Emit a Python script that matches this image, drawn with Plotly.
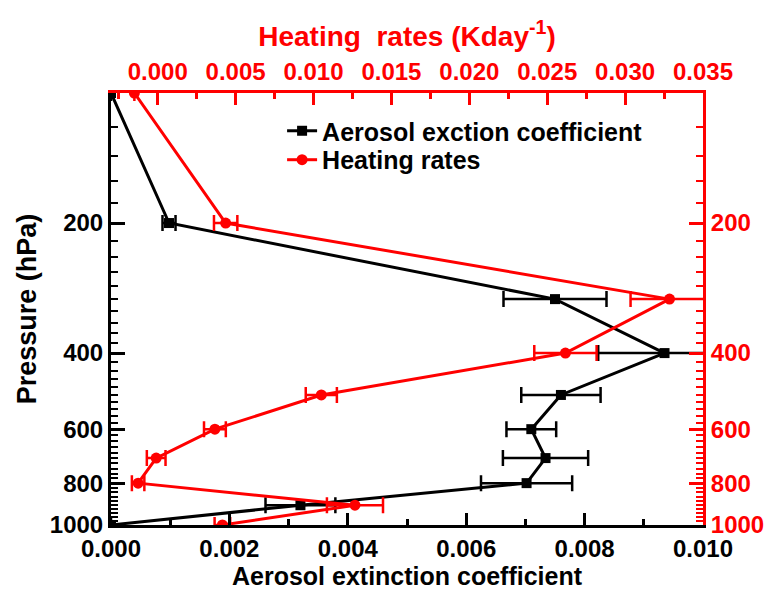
import plotly.graph_objects as go

# ---- data ----
pressure = [100, 200, 300, 400, 500, 600, 700, 800, 900, 1000]
aerosol_ext = [0.0, 0.00098, 0.0075, 0.00935, 0.0076, 0.0071, 0.00734, 0.00702, 0.0032, 0.0]
aerosol_err = [0.0, 0.00011, 0.00087, 0.00112, 0.00067, 0.00042, 0.00072, 0.00077, 0.00059, 0.0]
heating = [-0.0015, 0.00436, 0.03285, 0.02617, 0.0105, 0.00367, -0.0001, -0.00126, 0.01266, 0.00415]
heating_err = [0.0, 0.00075, 0.0025, 0.002, 0.001, 0.0007, 0.0006, 0.0004, 0.0018, 0.0005]

x_bottom_ticks = [0.000, 0.002, 0.004, 0.006, 0.008, 0.010]
x_bottom_labels = ["0.000", "0.002", "0.004", "0.006", "0.008", "0.010"]
x_bottom_minor = [0.001, 0.003, 0.005, 0.007, 0.009]
x_top_ticks = [0.000, 0.005, 0.010, 0.015, 0.020, 0.025, 0.030, 0.035]
x_top_labels = ["0.000", "0.005", "0.010", "0.015", "0.020", "0.025", "0.030", "0.035"]
x_top_minor = [-0.0025, 0.0025, 0.0075, 0.0125, 0.0175, 0.0225, 0.0275, 0.0325]
y_ticks = [200, 400, 600, 800, 1000]
y_labels = ["200", "400", "600", "800", "1000"]
y_minor = [p for p in range(120, 1000, 20) if p not in y_ticks]

FONT = "Liberation Sans, Arial, sans-serif"
RED = "#ff0000"

def f(size, color="black"):
    return dict(size=size, color=color, family=FONT, weight="bold")

fig = go.Figure()
fig.add_trace(go.Scatter(
    x=aerosol_ext, y=pressure, name="Aerosol exction coefficient",
    mode="lines+markers", line=dict(color="black", width=3),
    marker=dict(symbol="square", size=10, color="black"),
    error_x=dict(type="data", array=aerosol_err, color="black", thickness=2.5, width=8),
    xaxis="x", yaxis="y", legend="legend",
))
fig.add_trace(go.Scatter(
    x=heating, y=pressure, name="Heating rates",
    mode="lines+markers", line=dict(color=RED, width=3),
    marker=dict(symbol="circle", size=11, color=RED),
    error_x=dict(type="data", array=heating_err, color=RED, thickness=2.5, width=8),
    xaxis="x2", yaxis="y2", legend="legend2",
))

common_y = dict(type="log", range=[3, 2], tickmode="array", tickvals=y_ticks, ticktext=y_labels,
                ticks="inside", ticklen=14, tickwidth=2.5, showline=True, linewidth=3,
                showgrid=False, zeroline=False)

fig.update_layout(
    width=778, height=598,
    margin=dict(l=111, r=75, t=93, b=73),
    paper_bgcolor="white", plot_bgcolor="white",
    font=f(24),
    xaxis=dict(range=[0, 0.01], tickmode="array", tickvals=x_bottom_ticks, ticktext=x_bottom_labels,
               ticks="inside", ticklen=12, tickwidth=2.5, showline=True, linewidth=3, linecolor="black",
               tickcolor="black", showgrid=False, zeroline=False,
               minor=dict(tickmode="array", tickvals=x_bottom_minor, ticks="inside", ticklen=6,
                          tickwidth=2.5, tickcolor="black"),
               tickfont=f(24),
               title=dict(text="Aerosol extinction coefficient", font=f(25), standoff=6)),
    xaxis2=dict(range=[-0.003, 0.035], overlaying="x", side="top", anchor="y2", tickmode="array",
                tickvals=x_top_ticks, ticktext=x_top_labels,
                ticks="inside", ticklen=12, tickwidth=2.5, showline=True, linewidth=3, linecolor=RED,
                tickcolor=RED, showgrid=False, zeroline=False,
                minor=dict(tickmode="array", tickvals=x_top_minor, ticks="inside", ticklen=6,
                           tickwidth=2.5, tickcolor=RED),
                tickfont=f(24, RED),
                title=dict(text="Heating&nbsp; rates (Kday<sup>-1</sup>)", font=f(28, RED), standoff=4)),
    yaxis=dict(**common_y, linecolor="black", tickcolor="black",
               minor=dict(tickmode="array", tickvals=y_minor, ticks="inside", ticklen=7,
                          tickwidth=2, tickcolor="black"),
               tickfont=f(24),
               title=dict(text="Pressure (hPa)", font=f(27), standoff=6)),
    yaxis2=dict(**common_y, overlaying="y", side="right", anchor="x2", linecolor=RED, tickcolor=RED,
                minor=dict(tickmode="array", tickvals=y_minor, ticks="inside", ticklen=7,
                           tickwidth=2, tickcolor=RED),
                tickfont=f(24, RED)),
    legend=dict(x=0.289, y=0.912, xanchor="left", yanchor="middle", bgcolor="rgba(0,0,0,0)",
                font=f(25)),
    legend2=dict(x=0.289, y=0.845, xanchor="left", yanchor="middle", bgcolor="rgba(0,0,0,0)",
                 font=f(25)),
    showlegend=True,
)

fig.write_html("out.html")
